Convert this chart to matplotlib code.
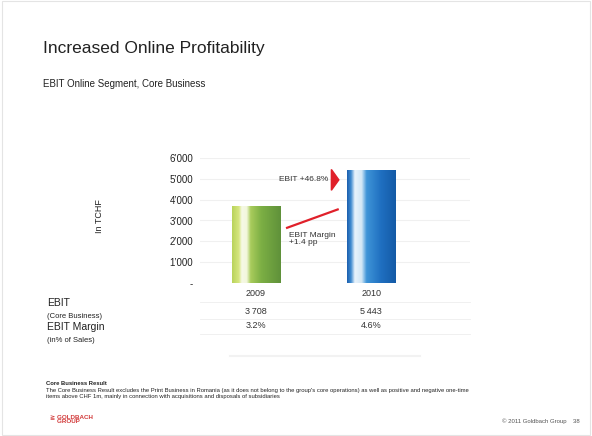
import matplotlib
matplotlib.use("Agg")
import matplotlib.pyplot as plt
import numpy as np
from matplotlib.colors import LinearSegmentedColormap
from matplotlib.patches import Polygon, Rectangle
from matplotlib.ticker import FuncFormatter

plt.rcParams['font.family'] = ['Liberation Sans', 'DejaVu Sans']

# ---- data ----
years = ["2009", "2010"]
ebit = [3708, 5443]
ebit_labels = ["3\u2009708", "5\u2009443"]
margin_labels = ["3.2%", "4.6%"]
yticks = [0, 1000, 2000, 3000, 4000, 5000, 6000]
ebit_growth = "EBIT +46.8%"
margin_change = "EBIT Margin\n+1.4 pp"

W, H = 592, 436
fig = plt.figure(figsize=(W / 100, H / 100), dpi=100)
fig.patch.set_facecolor("white")

def fx(px):
    return px / W

def fy(py):
    return 1 - py / H

# axes area
ax_left, ax_right = 200, 470
ax_bottom, ax_top = 283, 158
ax = fig.add_axes([fx(ax_left), fy(ax_bottom), fx(ax_right - ax_left), fy(ax_top) - fy(ax_bottom)])
for s in ax.spines.values():
    s.set_visible(False)
ax.set_facecolor("white")
ax.set_yticks(yticks)
ax.yaxis.set_major_formatter(FuncFormatter(
    lambda v, p: "-" if v == 0 else f"{int(v):,}".replace(",", "\u2019")))
ax.tick_params(axis="y", length=0, pad=5, labelsize=7, colors="#222222")
ax.set_xticks([])
for t in yticks[1:]:
    ax.axhline(t, color="#f0f0f0", lw=0.8, zorder=0)

# gradient bars
green_cmap = LinearSegmentedColormap.from_list("g", [
    (0.0, "#b9d35a"), (0.14, "#d6e67f"), (0.2, "#f6f9e6"), (0.3, "#f2f7dc"),
    (0.38, "#a9cc5c"), (0.6, "#7caf44"), (1.0, "#5f913a")])
blue_cmap = LinearSegmentedColormap.from_list("b", [
    (0.0, "#1c5fae"), (0.08, "#3f8bd0"), (0.16, "#e9f3fb"), (0.3, "#d2e7f6"),
    (0.4, "#3f95d8"), (0.7, "#1f6fc0"), (1.0, "#145aa6")])
cmaps = [green_cmap, blue_cmap]
width = 0.42
bars = ax.bar(range(len(years)), ebit, width=width, color="none", zorder=2)
grad = np.linspace(0, 1, 256).reshape(1, -1)
for b, cm in zip(bars, cmaps):
    x0, y0 = b.get_x(), b.get_y()
    im = ax.imshow(grad, cmap=cm, aspect="auto",
                   extent=[x0, x0 + b.get_width(), y0, y0 + b.get_height()],
                   zorder=2)
    im.set_clip_path(b)
ax.set_xlim(-0.487, 1.86)
ax.set_ylim(0, 6000)

# annotations
ax.text(0.63, 4950, ebit_growth, ha="right", va="center", fontsize=6, color="#333333")
ax.add_patch(Polygon([[0.655, 5450], [0.655, 4450], [0.72, 4950]], closed=True,
                     color="#e0202a", zorder=3))
ax.plot([0.27, 0.71], [2650, 3530], color="#e0202a", lw=1.6, zorder=3)
ax.text(0.285, 2450, margin_change, ha="left", va="top", fontsize=6, color="#333333",
        linespacing=1.1)

# y label
fig.text(fx(99), fy(216), "In TCHF", rotation=90, ha="center", va="center",
         fontsize=6.5, color="#222222")

# table under chart
row_y = [293, 311, 326]
for i, yr in enumerate(years):
    xp = ax.transData.transform((i, 0))[0] / fig.dpi / fig.get_size_inches()[0]
    fig.text(xp, fy(row_y[0]), yr, ha="center", va="center", fontsize=6.5, color="#333333")
    fig.text(xp, fy(row_y[1]), ebit_labels[i], ha="center", va="center", fontsize=6.5, color="#333333")
    fig.text(xp, fy(row_y[2]), margin_labels[i], ha="center", va="center", fontsize=6.5, color="#333333")
for yy in [302, 319, 334]:
    fig.add_artist(plt.Line2D([fx(200), fx(470)], [fy(yy), fy(yy)], color="#eeeeee", lw=0.6))

fig.text(fx(47), fy(303), "EBIT", ha="left", va="center", fontsize=7.5, color="#222222")
fig.text(fx(47), fy(316), "(Core Business)", ha="left", va="center", fontsize=5.5, color="#222222")
fig.text(fx(47), fy(327), "EBIT Margin", ha="left", va="center", fontsize=7.5, color="#222222")
fig.text(fx(47), fy(340), "(in% of Sales)", ha="left", va="center", fontsize=5.5, color="#222222")

# titles
fig.text(fx(43), fy(48), "Increased Online Profitability", ha="left", va="center",
         fontsize=12.5, color="#222222")
fig.text(fx(43), fy(84), "EBIT Online Segment, Core Business", ha="left", va="center",
         fontsize=7, color="#222222")

# faint separator
fig.add_artist(plt.Line2D([fx(230), fx(420)], [fy(356), fy(356)], color="#f2f2f2", lw=1.5))

# footer
fs = 4.2
fig.text(fx(46), fy(383), "Core Business Result", ha="left", va="center",
         fontsize=fs, color="#222222", fontweight="bold")
fig.text(fx(46), fy(390),
         "The Core Business Result excludes the Print Business in Romania (as it does not belong to the group's core operations) as well as positive and negative one-time",
         ha="left", va="center", fontsize=fs, color="#222222")
fig.text(fx(46), fy(396),
         "items above CHF 1m, mainly in connection with acquisitions and disposals of subsidiaries",
         ha="left", va="center", fontsize=fs, color="#222222")
fig.text(fx(50), fy(419), "\u2267 GOLDBACH\n    GROUP", ha="left", va="center",
         fontsize=4.5, color="#d23a3a", fontweight="bold", linespacing=0.9)
fig.text(fx(580), fy(421), "\u00a9 2011 Goldbach Group    38", ha="right", va="center",
         fontsize=4.3, color="#555555")

# slide border
fig.add_artist(Rectangle((0.003, 0.003), 0.994, 0.994, transform=fig.transFigure,
                         fill=False, edgecolor="#e4e4e4", lw=0.8))

fig.savefig("out.png", dpi=100, facecolor="white")
